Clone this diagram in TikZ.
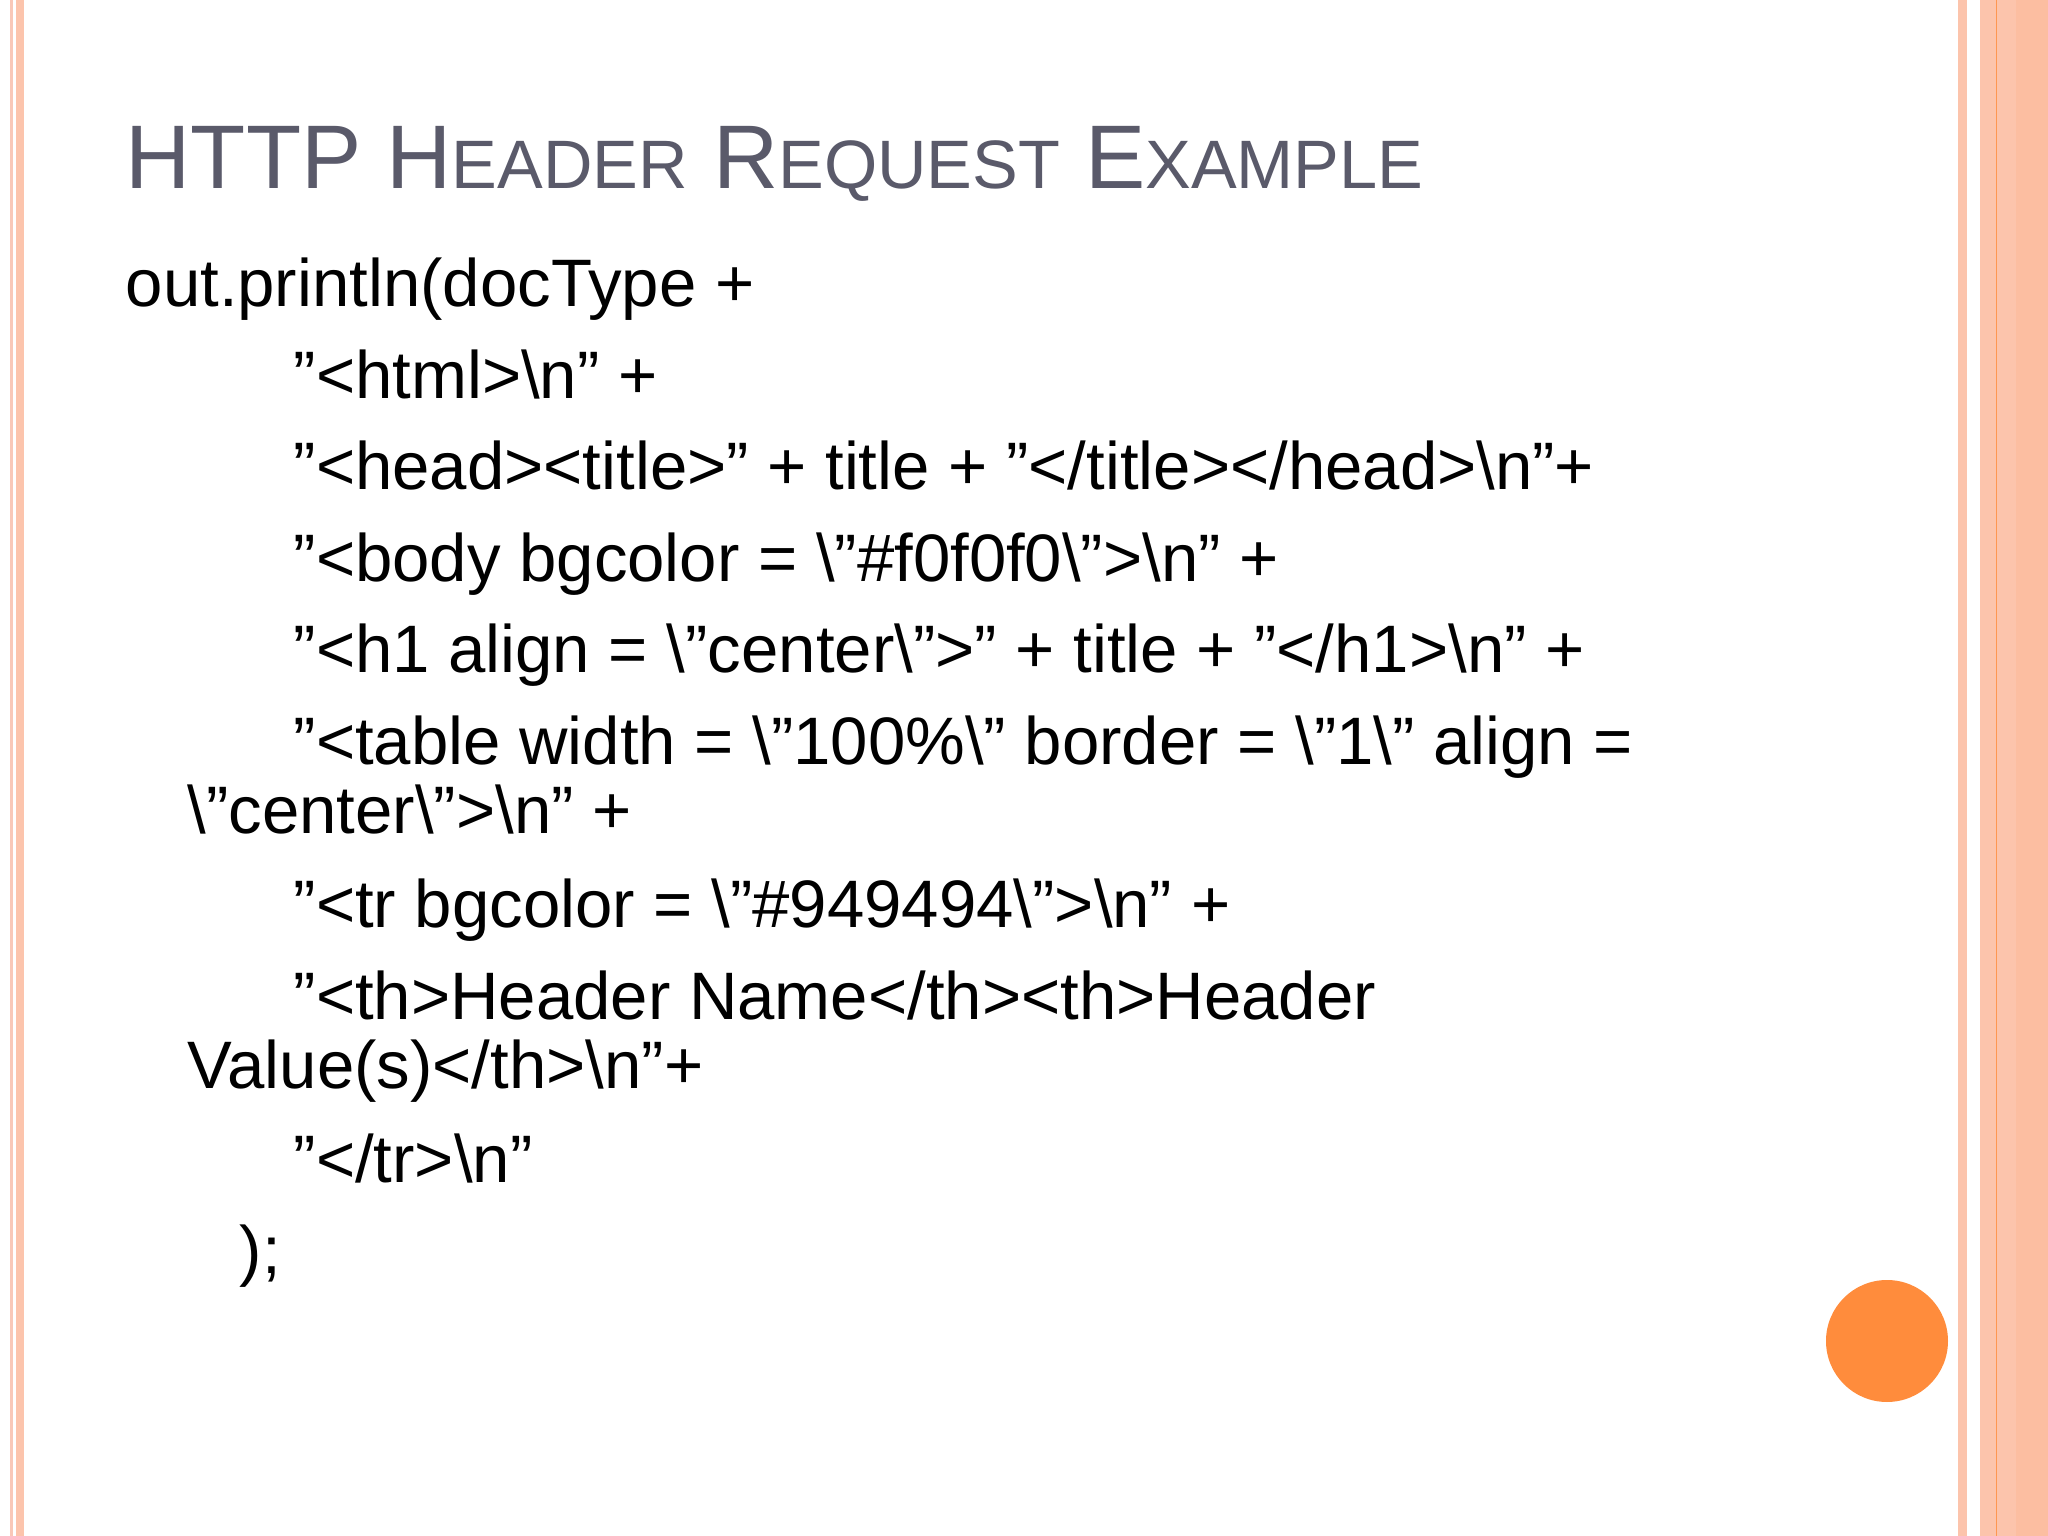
\documentclass[tikz,border=0pt]{standalone}
\usepackage{fontspec}
\setmainfont{Liberation Sans}
\definecolor{salmon}{HTML}{FCC4AC}
\definecolor{salmonl}{HTML}{F9C8B8}
\definecolor{orng}{HTML}{FF8C3C}
\definecolor{ttl}{HTML}{5A5A6A}
\newcommand{\bs}{\textbackslash}
\begin{document}
\begin{tikzpicture}[x=1cm,y=1cm,
  code/.style={anchor=base west,inner sep=0pt,font=\fontsize{19.1}{22}\selectfont}]
\useasboundingbox (0,0) rectangle (20.48,-15.36);
\fill[white] (0,0) rectangle (20.48,-15.36);
% left border
\fill[salmonl] (0.10,0) rectangle (0.13,-15.36);
\fill[salmon] (0.16,0) rectangle (0.24,-15.36);
% right border
\fill[salmon] (19.58,0) rectangle (19.67,-15.36);
\fill[salmon] (19.80,0) rectangle (20.48,-15.36);
\fill[orng!80!salmon] (19.955,0) rectangle (19.97,-15.36);
\fill[salmon!90!orng] (20.16,0) rectangle (20.48,-15.36);
% circle
\fill[orng] (18.87,-13.41) circle (0.61);
% title
\node[anchor=base west,inner sep=0pt,text=ttl] (title) at (1.25,-1.89)
 {\fontsize{25.7}{30}\selectfont HTTP H{\fontsize{19.5}{22}\selectfont EADER} R{\fontsize{19.5}{22}\selectfont EQUEST} E{\fontsize{19.5}{22}\selectfont XAMPLE}};
% code
\node[code] (l1) at (1.25,-3.07) {out.println(docType +};
\node[code] (l2) at (2.93,-3.985) {"<html>\bs n" +};
\node[code] (l3) at (2.93,-4.90) {"<head><title>" + title + "</title></head>\bs n"+};
\node[code] (l4) at (2.93,-5.815) {"<body bgcolor = \bs"\#f0f0f0\bs">\bs n" +};
\node[code] (l5) at (2.93,-6.73) {"<h1 align = \bs"center\bs">" + title + "</h1>\bs n" +};
\node[code] (l6) at (2.93,-7.645) {"<table width = \bs"100\%\bs" border = \bs"1\bs" align =};
\node[code] (l6b) at (1.87,-8.33) {\bs"center\bs">\bs n" +};
\node[code] (l7) at (2.93,-9.28) {"<tr bgcolor = \bs"\#949494\bs">\bs n" +};
\node[code] (l8) at (2.93,-10.19) {"<th>Header Name</th><th>Header};
\node[code] (l8b) at (1.87,-10.88) {Value(s)</th>\bs n"+};
\node[code] (l9) at (2.93,-11.82) {"</tr>\bs n"};
\node[code] (l10) at (2.39,-12.73) {);};
\end{tikzpicture}
\end{document}
